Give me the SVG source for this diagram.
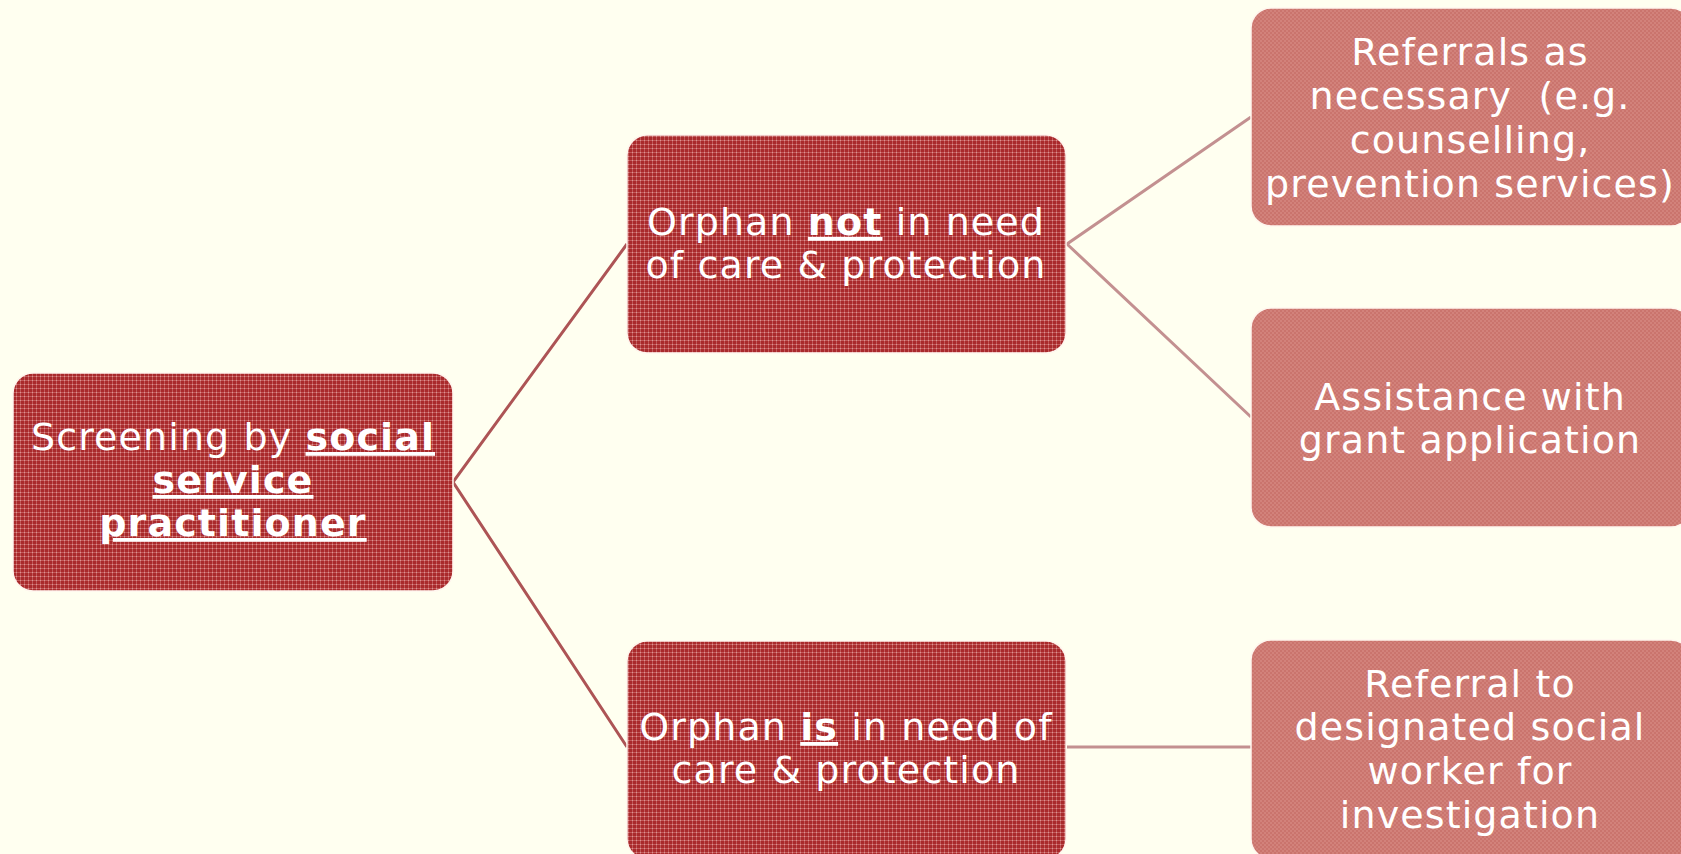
<svg xmlns="http://www.w3.org/2000/svg" width="1681" height="854" viewBox="0 0 1681 854">
  <defs>
    <!-- woven texture for the primary (dark red) boxes -->
    <pattern id="weaveDark" width="4" height="4" patternUnits="userSpaceOnUse">
      <rect width="4" height="4" fill="#a92a2c"/>
      <rect x="0" y="0" width="4" height="1" fill="#c25a5a"/>
      <rect x="0" y="0" width="1" height="4" fill="#c25a5a"/>
      <rect x="0" y="0" width="1" height="1" fill="#dc9494"/>
    </pattern>
    <!-- finer texture for the secondary (salmon) boxes -->
    <pattern id="weaveLight" width="4" height="4" patternUnits="userSpaceOnUse">
      <rect width="4" height="4" fill="#ca746d"/>
      <rect x="0" y="0" width="2" height="2" fill="#d2827b"/>
      <rect x="2" y="2" width="2" height="2" fill="#d2827b"/>
    </pattern>
    <style>
      .dark { fill: url(#weaveDark); stroke: #fff6ee; stroke-width: 1.5; }
      .light { fill: url(#weaveLight); stroke: #fff6ee; stroke-width: 1.5; }
      .lbl { font-family: "DejaVu Sans", Verdana, sans-serif; font-size: 38px; letter-spacing: 1.1px; fill: #ffffff; text-anchor: middle; }
      .em { font-weight: bold; text-decoration: underline; }
      .c1 { stroke: #ad5455; stroke-width: 3; fill: none; }
      .c2 { stroke: #c39090; stroke-width: 3; fill: none; }
    </style>
  </defs>

  <rect width="1681" height="854" fill="#fffff0"/>

  <g id="connectors">
    <polyline class="c1" points="627,244 453,482 627,747"/>
    <polyline class="c2" points="1251,117 1067,244 1251,417"/>
    <line class="c2" x1="1067" y1="747" x2="1251" y2="747"/>
  </g>

  <g id="node-screening">
    <rect class="dark" x="13" y="373" width="440" height="218" rx="20"/>
    <text class="lbl" x="233" y="450">Screening by <tspan class="em">social</tspan></text>
    <text class="lbl em" x="233" y="493">service</text>
    <text class="lbl em" x="233" y="536">practitioner</text>
  </g>

  <g id="node-not-in-need">
    <rect class="dark" x="627" y="135" width="439" height="218" rx="20"/>
    <text class="lbl" x="846" y="235">Orphan <tspan class="em">not</tspan> in need</text>
    <text class="lbl" x="846" y="278">of care &amp; protection</text>
  </g>

  <g id="node-in-need">
    <rect class="dark" x="627" y="641" width="439" height="218" rx="20"/>
    <text class="lbl" x="846" y="740">Orphan <tspan class="em">is</tspan> in need of</text>
    <text class="lbl" x="846" y="783">care &amp; protection</text>
  </g>

  <g id="node-referrals">
    <rect class="light" x="1251" y="8" width="440" height="218" rx="20"/>
    <text class="lbl" x="1470" y="65">Referrals as</text>
    <text class="lbl" x="1470" y="109">necessary&#160; (e.g.</text>
    <text class="lbl" x="1470" y="153">counselling,</text>
    <text class="lbl" x="1470" y="197">prevention services)</text>
  </g>

  <g id="node-grant">
    <rect class="light" x="1251" y="308" width="440" height="219" rx="20"/>
    <text class="lbl" x="1470" y="410">Assistance with</text>
    <text class="lbl" x="1470" y="453">grant application</text>
  </g>

  <g id="node-designated">
    <rect class="light" x="1251" y="640" width="440" height="219" rx="20"/>
    <text class="lbl" x="1470" y="697">Referral to</text>
    <text class="lbl" x="1470" y="740">designated social</text>
    <text class="lbl" x="1470" y="784">worker for</text>
    <text class="lbl" x="1470" y="828">investigation</text>
  </g>
</svg>
